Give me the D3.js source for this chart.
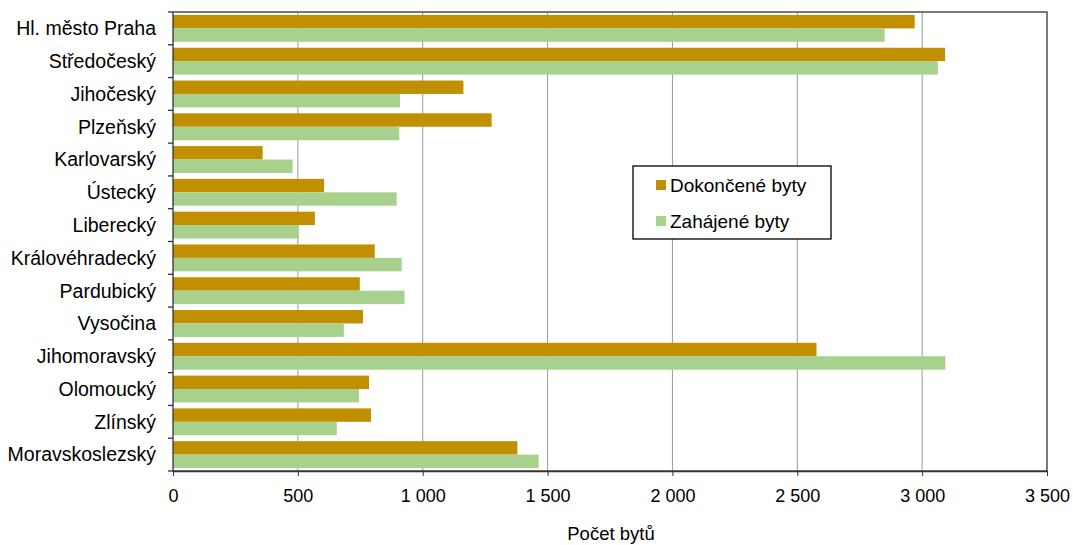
<!DOCTYPE html>
<html>
<head>
<meta charset="utf-8">
<script src="https://cdn.jsdelivr.net/npm/d3@7"></script>
<style>
  body { margin: 0; background: #fff; }
  svg { font-family: "Liberation Sans", Arial, sans-serif; }
</style>
</head>
<body>
<svg id="chart" width="1073" height="545"></svg>
<script>
// Regions of Czechia — dwellings completed vs. started
const regions = [
  "Hl. město Praha", "Středočeský", "Jihočeský", "Plzeňský", "Karlovarský",
  "Ústecký", "Liberecký", "Královéhradecký", "Pardubický", "Vysočina",
  "Jihomoravský", "Olomoucký", "Zlínský", "Moravskoslezský"
];
const completed = [2970, 3092, 1163, 1276, 359, 605, 568, 808, 748, 761, 2577, 785, 793, 1379];
const started = [2850, 3063, 909, 906, 479, 896, 504, 916, 927, 684, 3093, 745, 656, 1464];
const seriesNames = ["Dokončené byty", "Zahájené byty"];
const seriesColors = ["#C09000", "#A9D18E"];
const xTicks = [0, 500, 1000, 1500, 2000, 2500, 3000, 3500];

(function () {
  const svg = d3.select("#chart");
  const margin = { top: 12, right: 26, bottom: 74, left: 173 };
  const innerW = 1073 - margin.left - margin.right;
  const innerH = 545 - margin.top - margin.bottom;

  const g = svg.append("g").attr("transform", `translate(${margin.left},${margin.top})`);

  const x = d3.scaleLinear().domain([0, 3500]).range([0, innerW]);
  const y = d3.scaleBand().domain(regions).range([0, innerH]).paddingInner(0.18).paddingOuter(0.09);
  const sub = d3.scaleBand().domain([0, 1]).range([0, y.bandwidth()]);

  const fmt = (v) => d3.format(",")(v).replace(/,/g, "\u00a0");

  // gridlines
  g.append("g")
    .selectAll("line")
    .data(xTicks.slice(1, -1))
    .join("line")
    .attr("x1", (d) => x(d)).attr("x2", (d) => x(d))
    .attr("y1", 0).attr("y2", innerH)
    .attr("stroke", "#9a9a9a").attr("stroke-width", 1);

  // bars
  const rows = regions.map((r, i) => ({ r, vals: [completed[i], started[i]] }));
  const grp = g.append("g").selectAll("g").data(rows).join("g")
    .attr("transform", (d) => `translate(0,${y(d.r)})`);
  grp.selectAll("rect")
    .data((d) => d.vals.map((v, k) => ({ v, k })))
    .join("rect")
    .attr("x", 0)
    .attr("y", (d) => sub(d.k))
    .attr("width", (d) => x(d.v))
    .attr("height", sub.bandwidth())
    .attr("fill", (d) => seriesColors[d.k]);

  // plot border
  g.append("rect")
    .attr("width", innerW).attr("height", innerH)
    .attr("fill", "none").attr("stroke", "#333").attr("stroke-width", 1.3);

  // x axis
  const xAxis = g.append("g")
    .attr("transform", `translate(0,${innerH})`)
    .call(d3.axisBottom(x).tickValues(xTicks).tickFormat(fmt).tickSize(5).tickSizeOuter(0));
  xAxis.select(".domain").attr("stroke", "#333").attr("stroke-width", 1.3);
  xAxis.selectAll(".tick line").attr("stroke", "#333");
  xAxis.selectAll("text")
    .attr("font-size", 18).attr("fill", "#000")
    .attr("y", 31).attr("dy", 0);

  // y axis: ticks at band boundaries
  const bounds = d3.range(regions.length + 1).map((i) => (i * innerH) / regions.length);
  g.append("g").selectAll("line").data(bounds).join("line")
    .attr("x1", -5).attr("x2", 0)
    .attr("y1", (d) => d).attr("y2", (d) => d)
    .attr("stroke", "#333").attr("stroke-width", 1.3);
  g.append("g").selectAll("text").data(regions).join("text")
    .attr("x", -17)
    .attr("y", (d) => y(d) + y.bandwidth() / 2)
    .attr("dy", "0.35em")
    .attr("text-anchor", "end")
    .attr("font-size", 19.5)
    .attr("fill", "#000")
    .text((d) => d);

  // axis title
  svg.append("text")
    .attr("x", 611).attr("y", 540)
    .attr("text-anchor", "middle")
    .attr("font-size", 18.5)
    .text("Počet bytů");

  // legend
  const lg = svg.append("g").attr("transform", "translate(633,166)");
  lg.append("rect").attr("width", 198).attr("height", 73)
    .attr("fill", "#fff").attr("stroke", "#000").attr("stroke-width", 1.3);
  const items = lg.selectAll("g.item").data(seriesNames).join("g")
    .attr("class", "item")
    .attr("transform", (d, i) => `translate(23,${19 + i * 36})`);
  items.append("rect").attr("width", 10).attr("height", 10).attr("y", -5)
    .attr("fill", (d, i) => seriesColors[i]);
  items.append("text").attr("x", 14).attr("dy", "0.35em")
    .attr("font-size", 19).text((d) => d);
})();
</script>
</body>
</html>
